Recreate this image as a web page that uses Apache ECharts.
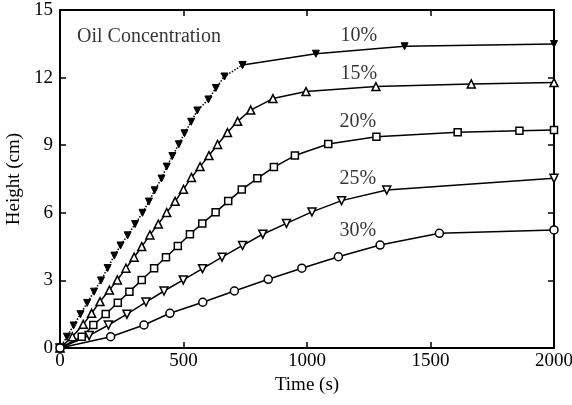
<!DOCTYPE html>
<html>
<head>
<meta charset="utf-8">
<script src="https://cdn.jsdelivr.net/npm/echarts@6/dist/echarts.min.js"></script>
<style>
  html, body { margin: 0; padding: 0; background: #fff; }
  #chart { width: 572px; height: 405px; }
</style>
</head>
<body>
<div id="chart"></div>
<script>
// time (s), height (cm)
const oil10Rise = [[0, 0], [28, 0.5], [55, 1.0], [83, 1.5], [110, 2.0], [138, 2.5], [166, 3.0], [193, 3.55],
  [220, 4.1], [245, 4.55], [274, 5.0], [304, 5.5], [334, 6.0], [360, 6.5], [383, 7.0], [411, 7.52],
  [432, 8.05], [455, 8.52], [481, 9.04], [504, 9.53], [531, 10.04], [556, 10.54], [601, 11.03],
  [631, 11.54], [666, 12.05], [739, 12.56]];
const oil10Tail = [[739, 12.56], [1036, 13.06], [1395, 13.39], [2000, 13.49]];
const oil15 = [[0, 0], [50, 0.5], [94, 1.05], [128, 1.54], [162, 2.06], [200, 2.57], [232, 3.02],
  [267, 3.54], [300, 4.03], [331, 4.5], [364, 5.02], [398, 5.5], [432, 6.01], [466, 6.51], [500, 7.04],
  [532, 7.57], [567, 8.05], [603, 8.54], [638, 9.03], [678, 9.56], [719, 10.06], [772, 10.56],
  [862, 11.07], [996, 11.38], [1279, 11.6], [1665, 11.72], [2000, 11.78]];
const oil20 = [[0, 0], [88, 0.5], [135, 1.02], [185, 1.51], [234, 2.01], [281, 2.5], [331, 3.02],
  [381, 3.54], [429, 4.03], [477, 4.53], [526, 5.05], [576, 5.53], [630, 6.02], [681, 6.52],
  [736, 7.03], [799, 7.53], [866, 8.03], [951, 8.54], [1086, 9.05], [1281, 9.37], [1610, 9.57],
  [1860, 9.64], [2000, 9.68]];
const oil25 = [[0, 0], [118, 0.55], [196, 1.02], [271, 1.5], [348, 2.04], [421, 2.53], [499, 3.02],
  [577, 3.52], [656, 4.03], [739, 4.55], [821, 5.05], [917, 5.53], [1020, 6.04], [1140, 6.54],
  [1323, 7.01], [2000, 7.53]];
const oil30 = [[0, 0], [205, 0.5], [340, 1.02], [445, 1.54], [578, 2.03], [706, 2.53], [843, 3.05],
  [979, 3.54], [1127, 4.05], [1296, 4.57], [1536, 5.09], [2000, 5.24]];

const curveLabels = [[1210, 13.85, '10%'], [1210, 12.16, '15%'], [1206, 10.03, '20%'],
  [1206, 7.5, '25%'], [1206, 5.19, '30%']];
const titleLabel = [[69, 13.8, 'Oil Concentration']];

const serif = '"Liberation Serif", "DejaVu Serif", serif';
const black = '#000';

const chart = echarts.init(document.getElementById('chart'));

function openMarker(symbol, size, rotate) {
  return {
    symbol: symbol,
    symbolSize: size,
    symbolRotate: rotate || 0,
    itemStyle: { color: '#fff', borderColor: black, borderWidth: 1.5 }
  };
}

function curve(data, marker, lineType) {
  return Object.assign({
    type: 'line',
    data: data,
    showAllSymbol: true,
    lineStyle: { color: black, width: 1.5, type: lineType || 'solid' },
    animation: false,
    z: 3
  }, marker);
}

function textSeries(data, align) {
  return {
    type: 'scatter',
    data: data,
    symbolSize: 1,
    itemStyle: { color: 'rgba(0,0,0,0)' },
    silent: true,
    label: {
      show: true,
      position: 'inside',
      align: align,
      formatter: p => p.data[2],
      color: black,
      fontFamily: serif,
      fontSize: 20
    },
    z: 5
  };
}

const filledDown = {
  symbol: 'triangle', symbolSize: 7, symbolRotate: 180,
  itemStyle: { color: black, borderColor: black, borderWidth: 1 }
};

const sideAxis = {
  min: 0,
  axisLine: { show: true, onZero: false, lineStyle: { color: black, width: 2 } },
  axisTick: { show: true, inside: true, length: 6, lineStyle: { color: black, width: 1.5 } },
  axisLabel: { show: false },
  splitLine: { show: false }
};

const option = {
  backgroundColor: '#fff',
  animation: false,
  grid: { left: 60, right: 18, top: 10, bottom: 57, containLabel: false, outerBoundsMode: 'none' },
  xAxis: [
    {
      type: 'value', min: 0, max: 2000, interval: 500,
      name: 'Time (s)', nameLocation: 'middle', nameGap: 27,
      nameTextStyle: { color: black, fontFamily: serif, fontSize: 19 },
      axisLine: { onZero: false, lineStyle: { color: black, width: 2 } },
      axisTick: { inside: true, length: 6, lineStyle: { color: black, width: 1.5 } },
      axisLabel: { color: black, fontFamily: serif, fontSize: 19, margin: 4, formatter: v => String(v) },
      splitLine: { show: false }
    },
    Object.assign({ type: 'value', position: 'top', max: 2000, interval: 500 }, sideAxis)
  ],
  yAxis: [
    {
      type: 'value', min: 0, max: 15, interval: 3,
      name: 'Height (cm)', nameLocation: 'middle', nameGap: 34,
      nameTextStyle: { color: black, fontFamily: serif, fontSize: 19 },
      axisLine: { show: true, onZero: false, lineStyle: { color: black, width: 2 } },
      axisTick: { show: true, inside: true, length: 6, lineStyle: { color: black, width: 1.5 } },
      axisLabel: { color: black, fontFamily: serif, fontSize: 19, margin: 7 },
      splitLine: { show: false }
    },
    Object.assign({ type: 'value', position: 'right', max: 15, interval: 3 }, sideAxis)
  ],
  series: [
    curve(oil10Rise, filledDown, 'dotted'),
    curve(oil10Tail, filledDown),
    curve(oil15, openMarker('triangle', 8)),
    curve(oil20, openMarker('rect', 7)),
    curve(oil25, openMarker('triangle', 8, 180)),
    curve(oil30, openMarker('circle', 8)),
    textSeries(curveLabels, 'center'),
    textSeries(titleLabel, 'left')
  ]
};

chart.setOption(option);
</script>
</body>
</html>
